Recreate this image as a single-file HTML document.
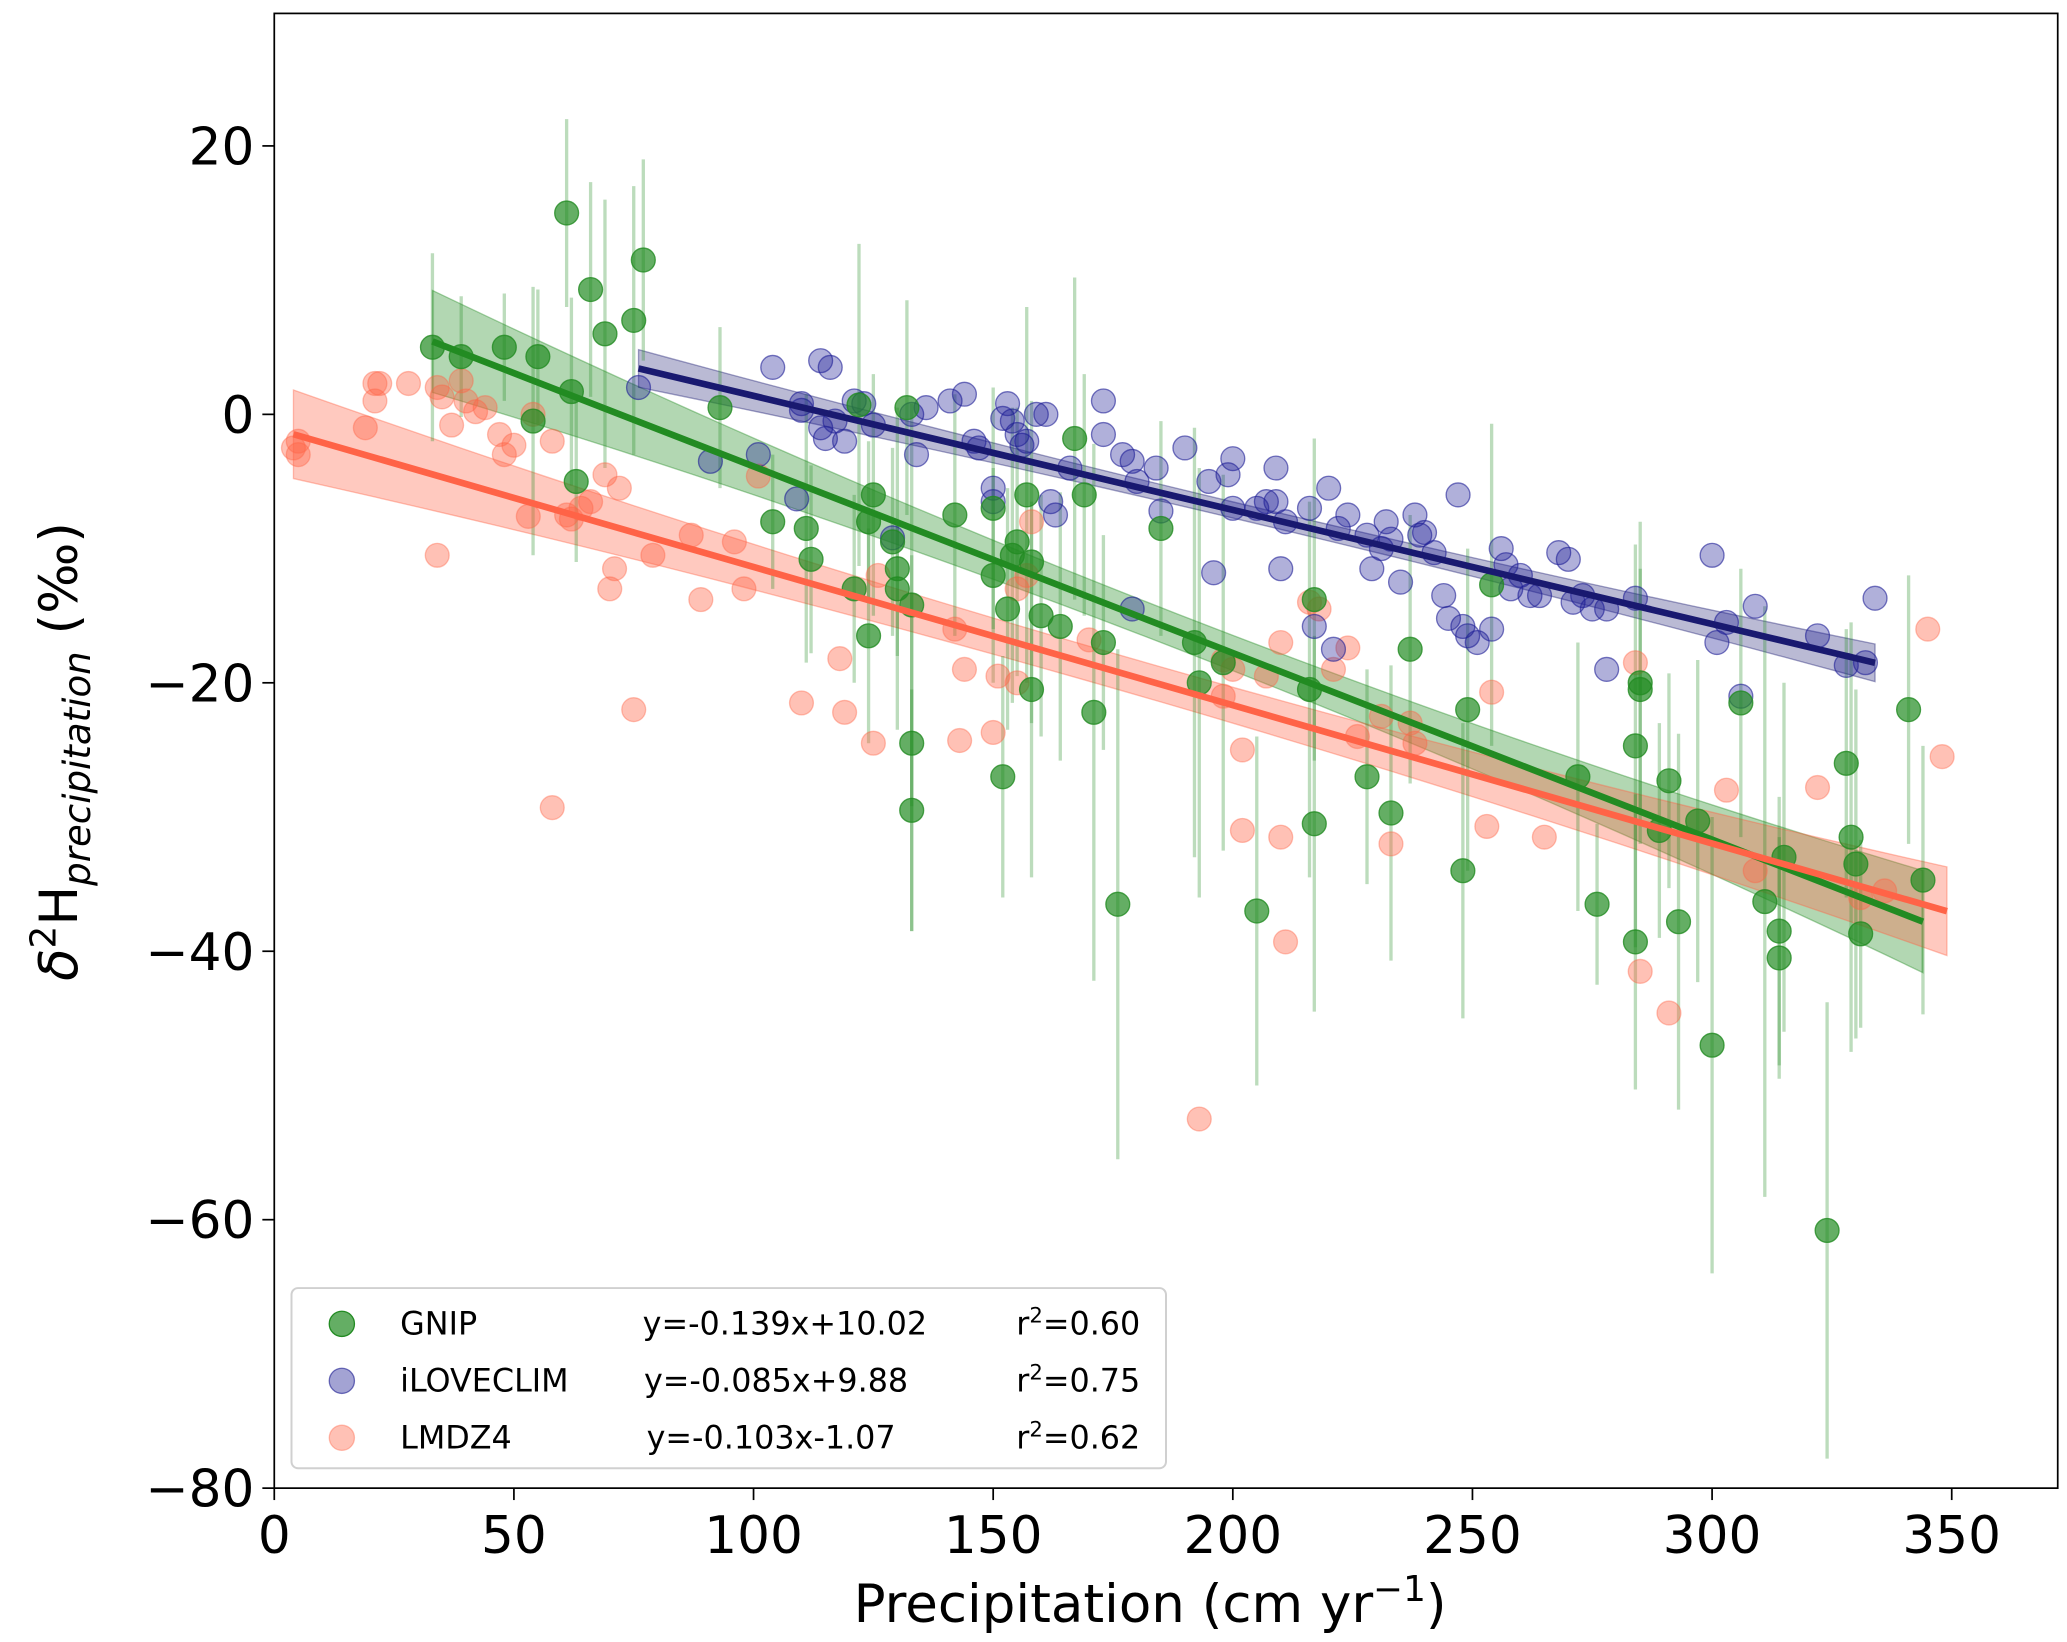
<!DOCTYPE html>
<html><head><meta charset="utf-8"><style>
html,body{margin:0;padding:0;background:#fff}
svg{display:block}
text{font-family:"DejaVu Sans","Liberation Sans",sans-serif}
</style></head><body>
<svg id="chart" width="2067" height="1642" viewBox="0 0 1560 1239" xmlns="http://www.w3.org/2000/svg">
<defs><clipPath id="clip"><rect x="207" y="10" width="1346" height="1113"/></clipPath></defs>
<rect x="207" y="10" width="1346" height="1113" fill="#fff"/>
<g id="bands" clip-path="url(#clip)"></g>
<g id="errs" clip-path="url(#clip)"></g>
<g id="pts" clip-path="url(#clip)"></g>
<g id="lines" clip-path="url(#clip)"></g>
<rect x="207" y="10" width="1346" height="1113" fill="none" stroke="#000" stroke-width="1.3"/>
<g id="axes"></g>
<text x="868" y="1224" font-size="40" text-anchor="middle">Precipitation (cm yr<tspan dy="-16" font-size="27">−1</tspan><tspan dy="16">)</tspan></text>
<text transform="translate(58,567) rotate(-90)" font-size="40" text-anchor="middle"><tspan font-style="italic">δ</tspan><tspan dy="-16" font-size="27">2</tspan><tspan dy="16">H</tspan><tspan dy="10" font-size="28" font-style="italic">precipitation</tspan><tspan dy="-10"> (‰)</tspan></text>
<g>
<rect x="220" y="972" width="660" height="136" rx="5" fill="#fff" fill-opacity="0.85" stroke="#d0d0d0" stroke-width="1.5"/>
<circle cx="258" cy="999" r="9.5" fill="#228B22" fill-opacity="0.7" stroke="#228B22"/>
<circle cx="258" cy="1042" r="9.5" fill="#191990" fill-opacity="0.4" stroke="#191990" stroke-opacity="0.6"/>
<circle cx="258" cy="1085" r="9.5" fill="#FF6347" fill-opacity="0.4" stroke="#FF6347" stroke-opacity="0.4"/>
<g font-size="24">
<text x="302" y="1007">GNIP</text>
<text x="485" y="1007">y=-0.139x+10.02</text>
<text x="767" y="1007">r<tspan dy="-9" font-size="16">2</tspan><tspan dy="9">=0.60</tspan></text>
<text x="302" y="1050">iLOVECLIM</text>
<text x="486" y="1050">y=-0.085x+9.88</text>
<text x="767" y="1050">r<tspan dy="-9" font-size="16">2</tspan><tspan dy="9">=0.75</tspan></text>
<text x="302" y="1093">LMDZ4</text>
<text x="488" y="1093">y=-0.103x-1.07</text>
<text x="767" y="1093">r<tspan dy="-9" font-size="16">2</tspan><tspan dy="9">=0.62</tspan></text>
</g></g>
</svg>
<script>
const xTicks=[0,50,100,150,200,250,300,350];
const yTicks=[20,0,-20,-40,-60,-80];
const gnipX=[33,39,48,55,54,61,62,63,66,69,75,77,93,104,111,112,121,122,124,124,125,129,130,130,132,133,133,133,142,150,150,152,153,154,155,157,158,158,160,164,167,169,171,173,176,185,192,193,198,205,216,217,217,228,233,237,248,249,254,272,276,284,284,285,285,289,291,293,297,300,306,311,314,314,315,324,328,329,330,331,341,344];
const gnipY=[5,4.3,5,4.3,-0.5,15,1.7,-5,9.3,6,7,11.5,0.5,-8,-8.5,-10.8,-13,0.7,-8,-16.5,-6,-9.5,-11.5,-13,0.5,-14.2,-24.5,-29.5,-7.5,-7,-12,-27,-14.5,-10.5,-9.5,-6,-11,-20.5,-15,-15.8,-1.8,-6,-22.2,-17,-36.5,-8.5,-17,-20,-18.5,-37,-20.5,-13.8,-30.5,-27,-29.7,-17.5,-34,-22,-12.7,-27,-36.5,-24.7,-39.3,-20,-20.5,-31,-27.3,-37.8,-30.3,-47,-21.5,-36.3,-38.5,-40.5,-33,-60.8,-26,-31.5,-33.5,-38.7,-22,-34.7];
const gnipErr=[7,4.5,4,5,10,7,7,6,8,10,10,7.5,6,5,10,7,7,12,6,8,9,7,12,5,8,15,14,9,9,9,8,9,9,11,10,14,12,14,9,10,12,9,20,8,19,8,16,16,14,13,14,12,14,8,11,10,11,12,12,10,6,15,11,12,9,8,8,14,12,17,10,22,10,9,13,17,10,16,13,7,10,10];
const iloveX=[76,91,101,104,109,110,110,114,114,115,116,117,119,121,123,125,129,133,134,136,141,144,146,147,150,150,152,153,154,155,156,157,159,161,162,163,166,173,173,177,179,179,180,184,185,190,195,196,199,200,200,205,207,209,209,210,211,216,217,220,221,222,224,228,229,231,232,233,235,238,239,240,242,244,245,247,248,249,251,254,256,257,258,260,262,264,268,270,271,273,275,278,278,284,300,301,303,306,309,322,328,332,334];
const iloveY=[2,-3.5,-3,3.5,-6.3,0.8,0.3,4,-1,-1.8,3.5,-0.5,-2,1,0.8,-0.8,-9.2,0,-3,0.5,1,1.5,-2,-2.5,-5.5,-6.5,-0.3,0.8,-0.5,-1.5,-2.3,-2,0,0,-6.5,-7.5,-4,1,-1.5,-3,-14.5,-3.5,-5,-4,-7.2,-2.5,-5,-11.8,-4.5,-7,-3.3,-7,-6.5,-6.5,-4,-11.5,-8,-7,-15.8,-5.5,-17.5,-8.5,-7.5,-9,-11.5,-10,-8,-9.3,-12.5,-7.5,-9,-8.8,-10.3,-13.5,-15.2,-6,-15.8,-16.5,-17,-16,-10,-11.2,-13,-12,-13.5,-13.5,-10.3,-10.8,-14,-13.5,-14.5,-19,-14.5,-13.7,-10.5,-17,-15.5,-21,-14.3,-16.5,-18.7,-18.5,-13.7];
const lmdzX=[4,5,5,19,21,21,22,28,34,34,35,37,39,40,42,44,47,48,50,53,54,58,58,61,62,64,66,69,70,71,72,75,79,87,89,96,98,101,110,118,119,125,126,142,143,144,150,151,155,155,157,158,170,193,198,198,200,202,202,207,210,210,211,216,218,221,224,226,231,233,237,238,253,254,265,284,285,291,303,309,322,331,336,345,348];
const lmdzY=[-2.5,-2,-3,-1,2.3,1,2.3,2.3,-10.5,2,1.3,-0.8,2.5,1,0.2,0.5,-1.5,-3,-2.3,-7.6,0,-29.3,-2,-7.5,-7.8,-7,-6.5,-4.5,-13,-11.5,-5.5,-22,-10.5,-9,-13.8,-9.5,-13,-4.6,-21.5,-18.2,-22.2,-24.5,-12,-16,-24.3,-19,-23.7,-19.5,-20,-13,-12,-8,-16.8,-52.5,-18.3,-21,-19,-25,-31,-19.5,-31.5,-17,-39.3,-14,-14.5,-19,-17.4,-24,-22.5,-32,-23,-24.5,-30.7,-20.7,-31.5,-18.5,-41.5,-44.6,-28,-34,-27.8,-36,-35.5,-16,-25.5];
const fitSlope=[-0.139,-0.085,-0.103];
const fitIntercept=[10.02,9.88,-1.07];
const fitRange=[[33,344],[76,334],[4,349]];
const bandEnd=[3.8,1.4,3.3];
const bandMid=[1.3,0.6,1.3];

const X=v=>207+v*(1266/350);
const Y=v=>312.6-v*(1013/100);
const NS="http://www.w3.org/2000/svg";
function mk(tag,parent,attrs){const e=document.createElementNS(NS,tag);for(const k in attrs)e.setAttribute(k,attrs[k]);document.getElementById(parent).appendChild(e);return e;}

xTicks.forEach(t=>{
  const l=mk('line','axes',{x1:X(t),x2:X(t),y1:1123,y2:1132,stroke:'#000','stroke-width':1.3});
  
  
  const tx=mk('text','axes',{x:X(t),y:1172,'font-size':39,'text-anchor':'middle'});
  tx.textContent=t;
  
  
});
yTicks.forEach(t=>{
  const l=mk('line','axes',{x1:198,x2:207,y1:Y(t),y2:Y(t),stroke:'#000','stroke-width':1.3});
  
  
  const tx=mk('text','axes',{x:192,y:Y(t)+14,'font-size':39,'text-anchor':'end'});
  tx.textContent=(t<0?'−':'')+Math.abs(t);
  
  
});

const cols=['#228B22','#191970','#FF6347'];
const names=['gnip','iloveclim','lmdz4'];
for(let s=0;s<3;s++){
  const [a,b]=fitRange[s];const m=(a+b)/2,h=(b-a)/2;
  const hw=x=>bandMid[s]+(bandEnd[s]-bandMid[s])*Math.pow((x-m)/h,2);
  const f=x=>fitSlope[s]*x+fitIntercept[s];
  let up=[],dn=[];
  for(let i=0;i<=40;i++){const x=a+(b-a)*i/40;up.push(X(x)+','+Y(f(x)+hw(x)));dn.unshift(X(x)+','+Y(f(x)-hw(x)));}
  const p=mk('polygon','bands',{points:up.concat(dn).join(' '),fill:cols[s],'fill-opacity':s==1?0.3:0.35,stroke:cols[s],'stroke-opacity':0.4,'stroke-width':1});
  
  
  const l=mk('line','lines',{x1:X(a),y1:Y(f(a)),x2:X(b),y2:Y(f(b)),stroke:cols[s],'stroke-width':5});
  
  
}
gnipX.forEach((x,i)=>{
  const e=mk('line','errs',{x1:X(x),x2:X(x),y1:Y(gnipY[i]+gnipErr[i]),y2:Y(gnipY[i]-gnipErr[i]),stroke:'#228B22','stroke-opacity':0.3,'stroke-width':2.5});
  
  
});
lmdzX.forEach((x,i)=>{
  const c=mk('circle','pts',{cx:X(x),cy:Y(lmdzY[i]),r:9,fill:'#FF6347','fill-opacity':0.4,stroke:'#FF6347','stroke-opacity':0.4});
  
  
});
iloveX.forEach((x,i)=>{
  const c=mk('circle','pts',{cx:X(x),cy:Y(iloveY[i]),r:9,fill:'#1E1E96','fill-opacity':0.35,stroke:'#1E1E96','stroke-opacity':0.6});
  
  
});
gnipX.forEach((x,i)=>{
  const c=mk('circle','pts',{cx:X(x),cy:Y(gnipY[i]),r:9,fill:'#228B22','fill-opacity':0.7,stroke:'#228B22','stroke-opacity':0.8});
  
  
});
</script>
</body></html>
